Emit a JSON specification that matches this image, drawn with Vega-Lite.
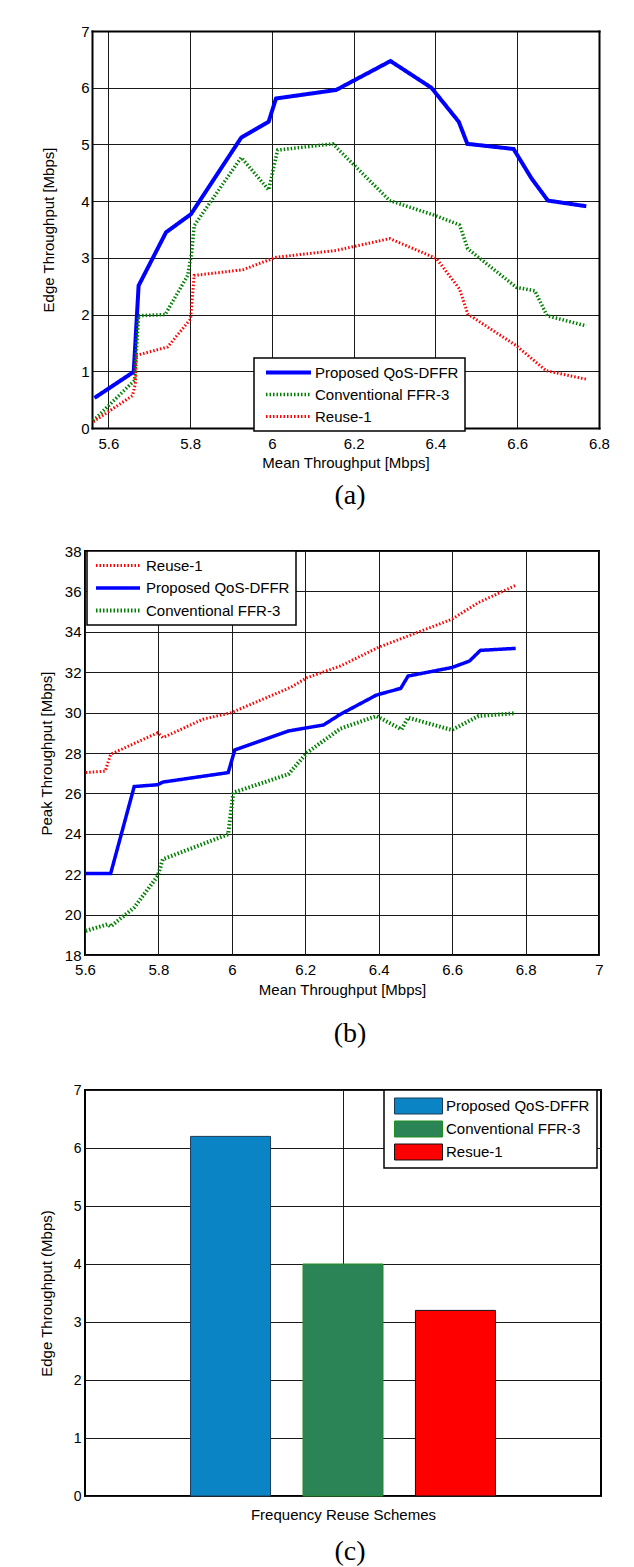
{
  "$schema": "https://vega.github.io/schema/vega-lite/v6.json",
  "padding": {"left": 38, "top": 24, "right": 0, "bottom": 0},
  "columns": 1,
  "align": "none",
  "center": false,
  "spacing": 33,
  "resolve": {
    "scale": {"color": "independent", "strokeDash": "independent", "strokeWidth": "independent", "stroke": "independent", "x": "independent", "y": "independent"},
    "legend": {"color": "independent", "strokeDash": "independent", "strokeWidth": "independent", "stroke": "independent"}
  },
  "config": {
    "font": "Liberation Sans",
    "view": {"stroke": "black", "strokeWidth": 2},
    "axis": {
      "labelFont": "Liberation Sans", "labelFontSize": 15, "labelColor": "black",
      "titleFont": "Liberation Sans", "titleFontSize": 15, "titleFontWeight": "normal", "titleColor": "black",
      "domain": false, "ticks": false, "grid": true, "gridColor": "#1a1a1a", "gridOpacity": 1, "gridWidth": 1,
      "labelFlush": false, "labelOverlap": false
    },
    "legend": {
      "labelFont": "Liberation Sans", "labelFontSize": 15, "labelColor": "black",
      "orient": "none", "strokeColor": "black", "strokeWidth": 1.5, "fillColor": "white", "padding": 6
    },
    "title": {"font": "Liberation Serif", "fontSize": 28, "fontWeight": "normal", "color": "black"}
  },
  "datasets": {
    "lineA": [
      {"x": 5.566, "y": 0.53, "series": "Proposed QoS-DFFR"},
      {"x": 5.662, "y": 0.99, "series": "Proposed QoS-DFFR"},
      {"x": 5.674, "y": 2.51, "series": "Proposed QoS-DFFR"},
      {"x": 5.741, "y": 3.45, "series": "Proposed QoS-DFFR"},
      {"x": 5.802, "y": 3.77, "series": "Proposed QoS-DFFR"},
      {"x": 5.925, "y": 5.12, "series": "Proposed QoS-DFFR"},
      {"x": 5.992, "y": 5.40, "series": "Proposed QoS-DFFR"},
      {"x": 6.010, "y": 5.81, "series": "Proposed QoS-DFFR"},
      {"x": 6.157, "y": 5.96, "series": "Proposed QoS-DFFR"},
      {"x": 6.290, "y": 6.47, "series": "Proposed QoS-DFFR"},
      {"x": 6.390, "y": 6.00, "series": "Proposed QoS-DFFR"},
      {"x": 6.457, "y": 5.40, "series": "Proposed QoS-DFFR"},
      {"x": 6.478, "y": 5.01, "series": "Proposed QoS-DFFR"},
      {"x": 6.591, "y": 4.92, "series": "Proposed QoS-DFFR"},
      {"x": 6.635, "y": 4.40, "series": "Proposed QoS-DFFR"},
      {"x": 6.675, "y": 4.01, "series": "Proposed QoS-DFFR"},
      {"x": 6.769, "y": 3.91, "series": "Proposed QoS-DFFR"},
      {"x": 5.563, "y": 0.13, "series": "Conventional FFR-3"},
      {"x": 5.664, "y": 0.84, "series": "Conventional FFR-3"},
      {"x": 5.674, "y": 1.98, "series": "Conventional FFR-3"},
      {"x": 5.739, "y": 2.00, "series": "Conventional FFR-3"},
      {"x": 5.794, "y": 2.69, "series": "Conventional FFR-3"},
      {"x": 5.804, "y": 3.10, "series": "Conventional FFR-3"},
      {"x": 5.810, "y": 3.57, "series": "Conventional FFR-3"},
      {"x": 5.925, "y": 4.77, "series": "Conventional FFR-3"},
      {"x": 5.992, "y": 4.20, "series": "Conventional FFR-3"},
      {"x": 6.014, "y": 4.90, "series": "Conventional FFR-3"},
      {"x": 6.149, "y": 5.01, "series": "Conventional FFR-3"},
      {"x": 6.288, "y": 4.01, "series": "Conventional FFR-3"},
      {"x": 6.402, "y": 3.74, "series": "Conventional FFR-3"},
      {"x": 6.459, "y": 3.58, "series": "Conventional FFR-3"},
      {"x": 6.479, "y": 3.16, "series": "Conventional FFR-3"},
      {"x": 6.598, "y": 2.48, "series": "Conventional FFR-3"},
      {"x": 6.643, "y": 2.42, "series": "Conventional FFR-3"},
      {"x": 6.673, "y": 1.98, "series": "Conventional FFR-3"},
      {"x": 6.769, "y": 1.80, "series": "Conventional FFR-3"},
      {"x": 5.563, "y": 0.11, "series": "Reuse-1"},
      {"x": 5.659, "y": 0.57, "series": "Reuse-1"},
      {"x": 5.666, "y": 0.78, "series": "Reuse-1"},
      {"x": 5.669, "y": 1.28, "series": "Reuse-1"},
      {"x": 5.745, "y": 1.43, "series": "Reuse-1"},
      {"x": 5.801, "y": 1.92, "series": "Reuse-1"},
      {"x": 5.810, "y": 2.69, "series": "Reuse-1"},
      {"x": 5.929, "y": 2.79, "series": "Reuse-1"},
      {"x": 6.010, "y": 3.01, "series": "Reuse-1"},
      {"x": 6.157, "y": 3.13, "series": "Reuse-1"},
      {"x": 6.288, "y": 3.34, "series": "Reuse-1"},
      {"x": 6.402, "y": 2.99, "series": "Reuse-1"},
      {"x": 6.459, "y": 2.45, "series": "Reuse-1"},
      {"x": 6.479, "y": 2.01, "series": "Reuse-1"},
      {"x": 6.598, "y": 1.45, "series": "Reuse-1"},
      {"x": 6.671, "y": 1.01, "series": "Reuse-1"},
      {"x": 6.769, "y": 0.86, "series": "Reuse-1"}
    ],
    "lineB": [
      {"x": 5.602, "y": 27.03, "series": "Reuse-1"},
      {"x": 5.655, "y": 27.10, "series": "Reuse-1"},
      {"x": 5.670, "y": 27.94, "series": "Reuse-1"},
      {"x": 5.798, "y": 29.00, "series": "Reuse-1"},
      {"x": 5.812, "y": 28.76, "series": "Reuse-1"},
      {"x": 5.921, "y": 29.67, "series": "Reuse-1"},
      {"x": 5.999, "y": 30.00, "series": "Reuse-1"},
      {"x": 6.159, "y": 31.24, "series": "Reuse-1"},
      {"x": 6.205, "y": 31.73, "series": "Reuse-1"},
      {"x": 6.296, "y": 32.31, "series": "Reuse-1"},
      {"x": 6.398, "y": 33.22, "series": "Reuse-1"},
      {"x": 6.599, "y": 34.62, "series": "Reuse-1"},
      {"x": 6.672, "y": 35.45, "series": "Reuse-1"},
      {"x": 6.773, "y": 36.30, "series": "Reuse-1"},
      {"x": 5.602, "y": 22.04, "series": "Proposed QoS-DFFR"},
      {"x": 5.670, "y": 22.04, "series": "Proposed QoS-DFFR"},
      {"x": 5.734, "y": 26.34, "series": "Proposed QoS-DFFR"},
      {"x": 5.798, "y": 26.43, "series": "Proposed QoS-DFFR"},
      {"x": 5.812, "y": 26.56, "series": "Proposed QoS-DFFR"},
      {"x": 5.990, "y": 27.03, "series": "Proposed QoS-DFFR"},
      {"x": 6.008, "y": 28.15, "series": "Proposed QoS-DFFR"},
      {"x": 6.154, "y": 29.09, "series": "Proposed QoS-DFFR"},
      {"x": 6.250, "y": 29.39, "series": "Proposed QoS-DFFR"},
      {"x": 6.296, "y": 29.92, "series": "Proposed QoS-DFFR"},
      {"x": 6.394, "y": 30.87, "series": "Proposed QoS-DFFR"},
      {"x": 6.460, "y": 31.20, "series": "Proposed QoS-DFFR"},
      {"x": 6.480, "y": 31.81, "series": "Proposed QoS-DFFR"},
      {"x": 6.599, "y": 32.23, "series": "Proposed QoS-DFFR"},
      {"x": 6.647, "y": 32.55, "series": "Proposed QoS-DFFR"},
      {"x": 6.677, "y": 33.08, "series": "Proposed QoS-DFFR"},
      {"x": 6.773, "y": 33.18, "series": "Proposed QoS-DFFR"},
      {"x": 5.602, "y": 19.19, "series": "Conventional FFR-3"},
      {"x": 5.661, "y": 19.52, "series": "Conventional FFR-3"},
      {"x": 5.670, "y": 19.41, "series": "Conventional FFR-3"},
      {"x": 5.734, "y": 20.35, "series": "Conventional FFR-3"},
      {"x": 5.798, "y": 21.91, "series": "Conventional FFR-3"},
      {"x": 5.812, "y": 22.74, "series": "Conventional FFR-3"},
      {"x": 5.990, "y": 23.98, "series": "Conventional FFR-3"},
      {"x": 6.004, "y": 26.04, "series": "Conventional FFR-3"},
      {"x": 6.154, "y": 26.95, "series": "Conventional FFR-3"},
      {"x": 6.205, "y": 28.02, "series": "Conventional FFR-3"},
      {"x": 6.296, "y": 29.21, "series": "Conventional FFR-3"},
      {"x": 6.394, "y": 29.83, "series": "Conventional FFR-3"},
      {"x": 6.462, "y": 29.17, "series": "Conventional FFR-3"},
      {"x": 6.480, "y": 29.75, "series": "Conventional FFR-3"},
      {"x": 6.599, "y": 29.14, "series": "Conventional FFR-3"},
      {"x": 6.672, "y": 29.83, "series": "Conventional FFR-3"},
      {"x": 6.773, "y": 29.97, "series": "Conventional FFR-3"}
    ],
    "bars": [
      {"scheme": "Proposed QoS-DFFR", "pos": 1, "value": 6.2},
      {"scheme": "Conventional FFR-3", "pos": 2, "value": 4.0},
      {"scheme": "Resue-1", "pos": 3, "value": 3.2}
    ]
  },
  "concat": [
    {
      "width": 514,
      "height": 397,
      "data": {"name": "lineA"},
      "view": {"stroke": null},
      "title": {"text": "(a)", "orient": "bottom", "anchor": "middle", "frame": "group", "offset": 12, "dx": 8},
      "resolve": {"axis": {"x": "independent", "y": "independent"}},
      "layer": [
        {
          "mark": {"type": "line", "clip": true},
          "encoding": {
            "x": {"field": "x", "type": "quantitative",
                  "scale": {"domain": [5.56, 6.8], "range": [7, 514], "nice": false, "zero": false},
                  "axis": {"values": [5.6, 5.8, 6, 6.2, 6.4, 6.6, 6.8], "format": ".1~f", "title": "Mean Throughput [Mbps]", "labelPadding": 8, "titlePadding": 4, "domain": true, "domainColor": "black", "domainWidth": 2, "domainCap": "square"}},
            "y": {"field": "y", "type": "quantitative",
                  "scale": {"domain": [0, 7], "nice": false},
                  "axis": {"values": [0, 1, 2, 3, 4, 5, 6, 7], "title": "Edge Throughput [Mbps]", "labelPadding": 3, "titlePadding": 24, "offset": -7, "domain": true, "domainColor": "black", "domainWidth": 2, "domainCap": "square"}},
            "color": {"field": "series", "type": "nominal",
                      "scale": {"domain": ["Proposed QoS-DFFR", "Conventional FFR-3", "Reuse-1"], "range": ["#0000ff", "#008000", "#ff0000"]},
                      "legend": {"title": null, "legendX": 169, "legendY": 327, "symbolType": "stroke", "symbolSize": 2025, "clipHeight": 17, "rowPadding": 5, "symbolOffset": 4, "labelOffset": 2}},
            "strokeDash": {"field": "series", "type": "nominal",
                      "scale": {"domain": ["Proposed QoS-DFFR", "Conventional FFR-3", "Reuse-1"], "range": [[1, 0], [1.5, 2], [1.5, 2]]},
                      "legend": {"title": null, "legendX": 169, "legendY": 327, "symbolType": "stroke", "symbolSize": 2025, "clipHeight": 17, "rowPadding": 5, "symbolOffset": 4, "labelOffset": 2}},
            "strokeWidth": {"field": "series", "type": "nominal",
                      "scale": {"domain": ["Proposed QoS-DFFR", "Conventional FFR-3", "Reuse-1"], "range": [4, 3, 3]},
                      "legend": {"title": null, "legendX": 169, "legendY": 327, "symbolType": "stroke", "symbolSize": 2025, "clipHeight": 17, "rowPadding": 5, "symbolOffset": 4, "labelOffset": 2}}
          }
        },
        {
          "mark": {"type": "line", "opacity": 0},
          "encoding": {
            "x": {"field": "x", "type": "quantitative",
                  "scale": {"domain": [5.56, 6.8], "range": [7, 514], "nice": false, "zero": false},
                  "axis": {"orient": "top", "labels": false, "grid": false, "ticks": false, "title": null, "domain": true, "domainColor": "black", "domainWidth": 2, "domainCap": "square"}},
            "y": {"field": "y", "type": "quantitative",
                  "scale": {"domain": [0, 7], "nice": false},
                  "axis": {"orient": "right", "labels": false, "grid": false, "ticks": false, "title": null, "domain": true, "domainColor": "black", "domainWidth": 2, "domainCap": "square"}}
          }
        }
      ]
    },
    {
      "width": 514,
      "height": 404,
      "data": {"name": "lineB"},
      "title": {"text": "(b)", "orient": "bottom", "anchor": "middle", "frame": "group", "offset": 23, "dx": 8},
      "mark": {"type": "line", "clip": true},
      "encoding": {
        "x": {"field": "x", "type": "quantitative",
              "scale": {"domain": [5.6, 7], "nice": false, "zero": false},
              "axis": {"values": [5.6, 5.8, 6, 6.2, 6.4, 6.6, 6.8, 7], "format": ".1~f", "title": "Mean Throughput [Mbps]", "labelPadding": 7, "titlePadding": 5}},
        "y": {"field": "y", "type": "quantitative",
              "scale": {"domain": [18, 38], "nice": false, "zero": false},
              "axis": {"values": [18, 20, 22, 24, 26, 28, 30, 32, 34, 36, 38], "title": "Peak Throughput [Mbps]", "labelPadding": 4, "titlePadding": 10}},
        "color": {"field": "series", "type": "nominal",
                  "scale": {"domain": ["Reuse-1", "Proposed QoS-DFFR", "Conventional FFR-3"], "range": ["#ff0000", "#0000ff", "#008000"]},
                  "legend": {"title": null, "legendX": 2, "legendY": 0, "symbolType": "stroke", "symbolSize": 1936, "clipHeight": 17, "rowPadding": 5.5, "symbolOffset": 1, "labelOffset": 4}},
        "strokeDash": {"field": "series", "type": "nominal",
                  "scale": {"domain": ["Reuse-1", "Proposed QoS-DFFR", "Conventional FFR-3"], "range": [[1.5, 2], [1, 0], [1.5, 2]]},
                  "legend": {"title": null, "legendX": 2, "legendY": 0, "symbolType": "stroke", "symbolSize": 1936, "clipHeight": 17, "rowPadding": 5.5, "symbolOffset": 1, "labelOffset": 4}},
        "strokeWidth": {"field": "series", "type": "nominal",
                  "scale": {"domain": ["Reuse-1", "Proposed QoS-DFFR", "Conventional FFR-3"], "range": [3, 4, 3]},
                  "legend": {"title": null, "legendX": 2, "legendY": 0, "symbolType": "stroke", "symbolSize": 1936, "clipHeight": 17, "rowPadding": 5.5, "symbolOffset": 1, "labelOffset": 4}}
      }
    },
    {
      "width": 516,
      "height": 406,
      "data": {"name": "bars"},
      "title": {"text": "(c)", "orient": "bottom", "anchor": "middle", "frame": "group", "offset": 16, "dx": 7},
      "mark": {"type": "bar", "width": 80, "strokeWidth": 1},
      "encoding": {
        "x": {"field": "pos", "type": "quantitative",
              "scale": {"domain": [-0.25, 4.25], "nice": false, "zero": false},
              "axis": {"values": [2], "labels": false, "title": "Frequency Reuse Schemes", "titlePadding": 11}},
        "y": {"field": "value", "type": "quantitative",
              "scale": {"domain": [0, 7], "nice": false},
              "axis": {"values": [0, 1, 2, 3, 4, 5, 6, 7], "title": "Edge Throughput (Mbps)", "labelFontSize": 14, "labelPadding": 4, "titlePadding": 19}},
        "color": {"field": "scheme", "type": "nominal",
                  "scale": {"domain": ["Proposed QoS-DFFR", "Conventional FFR-3", "Resue-1"], "range": ["#0b84c6", "#2b8456", "#ff0000"]},
                  "legend": {"title": null, "legendX": 299, "legendY": 0, "symbolType": "M-1,-0.3333H1V0.3333H-1Z", "symbolSize": 2304, "symbolStrokeWidth": 1, "clipHeight": 18, "rowPadding": 5, "symbolOffset": 3, "labelOffset": 3, "symbolOpacity": 1, "padding": 7}},
        "stroke": {"field": "scheme", "type": "nominal",
                  "scale": {"domain": ["Proposed QoS-DFFR", "Conventional FFR-3", "Resue-1"], "range": ["#1c3a55", "#1f8f1f", "#111111"]},
                  "legend": {"title": null, "legendX": 299, "legendY": 0, "symbolType": "M-1,-0.3333H1V0.3333H-1Z", "symbolSize": 2304, "symbolStrokeWidth": 1, "clipHeight": 18, "rowPadding": 5, "symbolOffset": 3, "labelOffset": 3, "symbolOpacity": 1, "padding": 7}}
      }
    }
  ]
}
